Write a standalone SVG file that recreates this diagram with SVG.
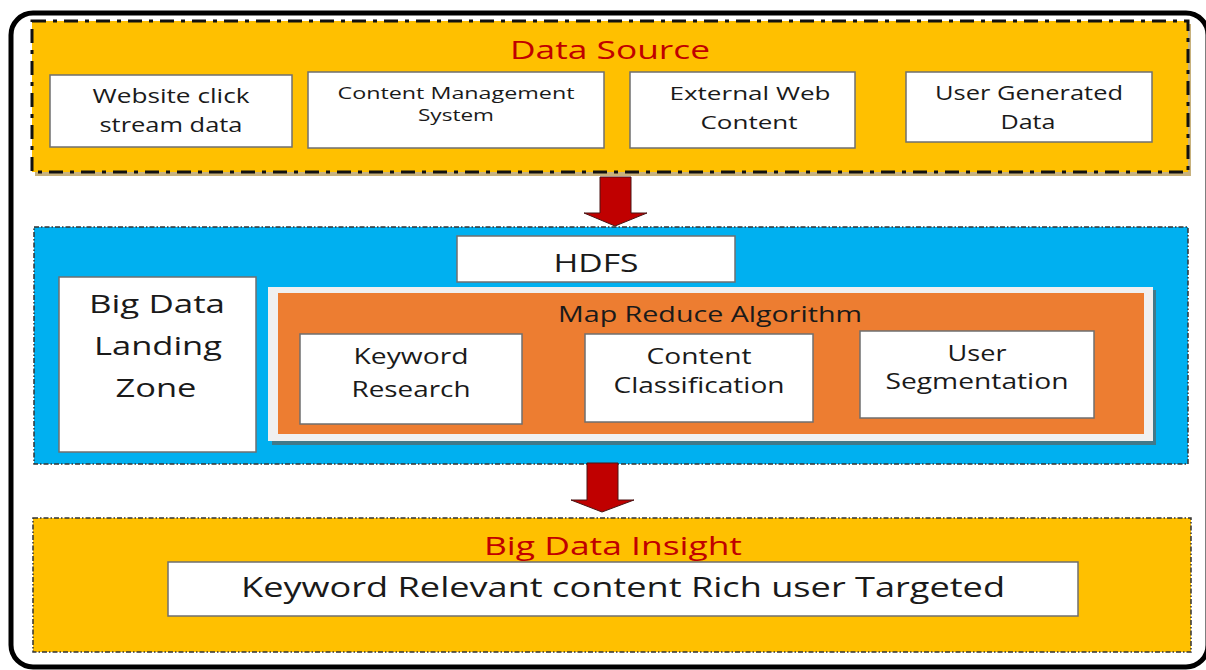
<svg xmlns="http://www.w3.org/2000/svg" width="1206" height="670" viewBox="0 0 1206 670">
<style>
  .t { font-family: "Open Sans", "Liberation Sans", sans-serif; fill: #1a1a1a; text-anchor: middle; }
  .red { fill: #C00000; }
  .wbox { fill: #ffffff; stroke: #6f6f6f; stroke-width: 1.5; }
  .arrow { fill: #C00000; stroke: #4a1515; stroke-width: 1; }
</style>
<rect width="1206" height="670" fill="#ffffff"/>
<g id="frame">
  <rect x="11" y="13" width="1197" height="654" rx="22" ry="22" fill="none" stroke="#000000" stroke-width="5"/>
</g>

<g id="data-source">
  <rect x="35" y="24" width="1156" height="152" fill="#C8B27D"/>
  <rect x="32" y="21" width="1156" height="151" fill="#FFC000" stroke="#111111" stroke-width="3" stroke-dasharray="14 7 4 7"/>
  <text class="t red" x="610" y="59" font-size="26" textLength="200" lengthAdjust="spacingAndGlyphs">Data Source</text>
</g>
<g id="website-click">
  <rect class="wbox" x="50" y="75" width="242" height="72"/>
  <text class="t" x="171" y="103" font-size="20" textLength="157" lengthAdjust="spacingAndGlyphs">Website click</text>
  <text class="t" x="171" y="132" font-size="20" textLength="143" lengthAdjust="spacingAndGlyphs">stream data</text>
</g>
<g id="cms">
  <rect class="wbox" x="308" y="72" width="296" height="76"/>
  <text class="t" x="456" y="99" font-size="17" textLength="237" lengthAdjust="spacingAndGlyphs">Content Management</text>
  <text class="t" x="456" y="121" font-size="17" textLength="76" lengthAdjust="spacingAndGlyphs">System</text>
</g>
<g id="external-web">
  <rect class="wbox" x="630" y="72" width="225" height="76"/>
  <text class="t" x="750" y="100" font-size="19" textLength="161" lengthAdjust="spacingAndGlyphs">External Web</text>
  <text class="t" x="749" y="129" font-size="19" textLength="97" lengthAdjust="spacingAndGlyphs">Content</text>
</g>
<g id="user-generated">
  <rect class="wbox" x="906" y="72" width="246" height="70"/>
  <text class="t" x="1029" y="100" font-size="20" textLength="188" lengthAdjust="spacingAndGlyphs">User Generated</text>
  <text class="t" x="1028" y="129" font-size="20" textLength="55" lengthAdjust="spacingAndGlyphs">Data</text>
</g>

<g id="processing">
  <rect x="34" y="227" width="1154" height="237" fill="#00B0F0" stroke="#333333" stroke-width="1.5" stroke-dasharray="5 2 1.5 2"/>
</g>
<g id="hdfs">
  <rect class="wbox" x="457" y="236" width="278" height="46"/>
  <text class="t" x="596" y="272" font-size="26" textLength="85" lengthAdjust="spacingAndGlyphs">HDFS</text>
</g>
<g id="landing-zone">
  <rect class="wbox" x="59" y="277" width="197" height="175"/>
  <text class="t" x="157" y="313" font-size="26" textLength="136" lengthAdjust="spacingAndGlyphs">Big Data</text>
  <text class="t" x="158" y="355" font-size="26" textLength="128" lengthAdjust="spacingAndGlyphs">Landing</text>
  <text class="t" x="156" y="397" font-size="26" textLength="81" lengthAdjust="spacingAndGlyphs">Zone</text>
</g>
<g id="map-reduce">
  <rect x="272" y="290" width="884" height="155" fill="#41798A"/>
  <rect x="268" y="287" width="885" height="154" fill="#F0F0F0"/>
  <rect x="278" y="293" width="866" height="141" fill="#ED7D31"/>
  <text class="t" x="710" y="322" font-size="22" textLength="304" lengthAdjust="spacingAndGlyphs">Map Reduce Algorithm</text>
</g>
<g id="keyword-research">
  <rect class="wbox" x="300" y="334" width="222" height="90"/>
  <text class="t" x="411" y="364" font-size="21" textLength="115" lengthAdjust="spacingAndGlyphs">Keyword</text>
  <text class="t" x="411" y="397" font-size="21" textLength="119" lengthAdjust="spacingAndGlyphs">Research</text>
</g>
<g id="content-classification">
  <rect class="wbox" x="585" y="334" width="228" height="88"/>
  <text class="t" x="699" y="364" font-size="21" textLength="105" lengthAdjust="spacingAndGlyphs">Content</text>
  <text class="t" x="699" y="393" font-size="21" textLength="171" lengthAdjust="spacingAndGlyphs">Classification</text>
</g>
<g id="user-segmentation">
  <rect class="wbox" x="860" y="331" width="234" height="87"/>
  <text class="t" x="977" y="361" font-size="21" textLength="59" lengthAdjust="spacingAndGlyphs">User</text>
  <text class="t" x="977" y="389" font-size="21" textLength="183" lengthAdjust="spacingAndGlyphs">Segmentation</text>
</g>

<g id="insight">
  <rect x="33" y="518" width="1158" height="134" fill="#FFC000" stroke="#333333" stroke-width="1.5" stroke-dasharray="5 2 1.5 2"/>
  <text class="t red" x="613" y="555" font-size="26" textLength="258" lengthAdjust="spacingAndGlyphs">Big Data Insight</text>
</g>
<g id="insight-result">
  <rect class="wbox" x="168" y="562" width="910" height="54"/>
  <text class="t" x="623" y="597" font-size="27" textLength="764" lengthAdjust="spacingAndGlyphs">Keyword Relevant content Rich user Targeted</text>
</g>

<g id="connectors">
  <polygon class="arrow" points="600,177 631,177 631,213 647,213 615,226 584,213 600,213"/>
  <polygon class="arrow" points="587,463 618,463 618,500 634,500 602,512 571,500 587,500"/>
</g>
</svg>
